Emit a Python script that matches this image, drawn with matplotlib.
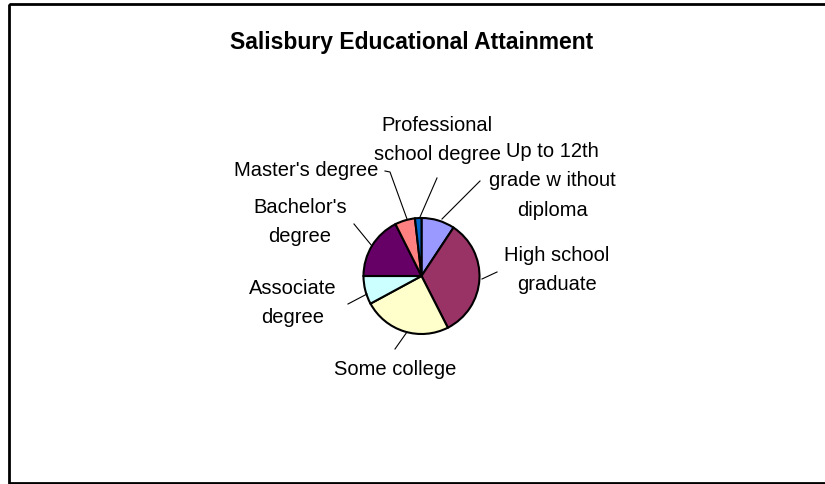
import matplotlib.pyplot as plt
from matplotlib.patches import Rectangle

plt.rcParams['font.family'] = ['Liberation Sans', 'DejaVu Sans']

# Salisbury educational attainment shares (percent), clockwise from 12 o'clock
categories = [
    "Up to 12th\ngrade w ithout\ndiploma",
    "High school\ngraduate",
    "Some college",
    "Associate\ndegree",
    "Bachelor's\ndegree",
    "Master's degree",
    "Professional\nschool degree",
]
shares = [9.3, 33.2, 24.6, 7.9, 17.6, 5.6, 1.8]
colors = ["#9999FF", "#993366", "#FFFFCC", "#CCFFFF", "#660066", "#FF8080", "#0066CC"]

# label text position and leader line (text end -> pie edge), in pixel coords (y down)
label_pos = [(552, 181), (557, 270), (395, 370), (293, 303), (300, 222), (306, 171), (437, 140)]
leaders = [
    [(480, 182), (442, 220)],
    [(497, 273), (482, 280)],
    [(395, 350), (407, 333)],
    [(348, 305), (367, 295)],
    [(354, 225), (372, 247)],
    [(385, 172), (390, 173), (407, 220)],
    [(437, 179), (420, 218)],
]

W, H = 825, 485
fig = plt.figure(figsize=(W / 100, H / 100), dpi=100)
ax = fig.add_axes([0, 0, 1, 1])

# y axis is inverted, so counterclock=True draws clockwise on screen;
# startangle=-90 points to the top of the screen
ax.pie(shares, colors=colors, startangle=-90, counterclock=True,
       center=(421.5, 277), radius=58, frame=True,
       wedgeprops=dict(edgecolor="black", linewidth=1.5))
ax.set_xlim(0, W)
ax.set_ylim(H, 0)
ax.set_aspect("auto")
ax.axis("off")

# chart border
ax.add_patch(Rectangle((9, 5), W + 5, 479, fill=False, edgecolor="black", linewidth=2))

ax.text(412, 42, "Salisbury Educational Attainment", ha="center", va="center",
        fontsize=16.5, fontweight="bold")

for label, (x, y), pts in zip(categories, label_pos, leaders):
    ax.text(x, y, label, ha="center", va="center", fontsize=14.5, linespacing=1.7)
    xs, ys = zip(*pts)
    ax.plot(xs, ys, color="black", linewidth=0.8)

fig.savefig("out.png", dpi=100)
